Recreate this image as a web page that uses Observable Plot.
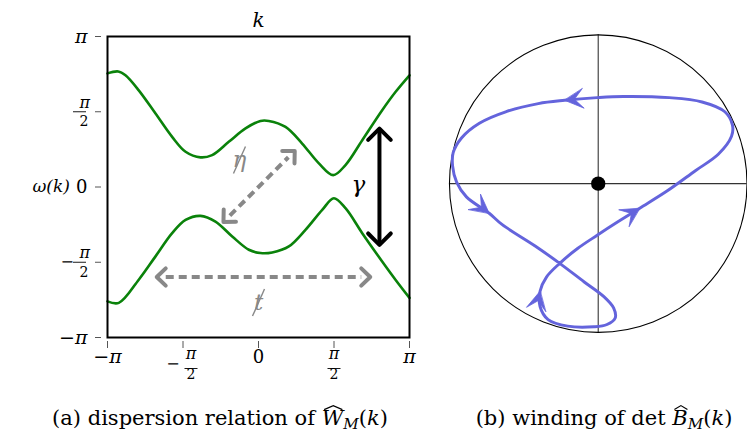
<!DOCTYPE html>
<html><head><meta charset="utf-8">
<script src="https://cdn.jsdelivr.net/npm/d3@7"></script>
<script src="https://cdn.jsdelivr.net/npm/@observablehq/plot@0.6"></script>
<style>
body{margin:0;background:#fff;overflow:hidden}
#wrap{position:relative;width:747px;height:443px;overflow:hidden;font-family:"DejaVu Serif",serif;color:#000}
#left{position:absolute;left:0;top:0}
#right{position:absolute;left:420px;top:0}
.cap{position:absolute;top:406px;font-size:21px;line-height:25px;white-space:nowrap;transform:translateX(-50%)}
.wh{position:relative;display:inline-block}
.hat{position:absolute;left:6%;top:-1px;width:94%;height:5px;overflow:visible}
sub{font-size:0.72em;vertical-align:-0.25em;line-height:0}
</style></head>
<body>
<div id="wrap">
  <div id="left"></div>
  <div id="right"></div>
  <div class="cap" style="left:220px">(a) dispersion relation of <span class="wh"><i>W</i><svg class="hat" viewBox="0 0 20 5" preserveAspectRatio="none"><polyline points="1,4.6 10,0.6 19,4.6" fill="none" stroke="#000" stroke-width="1.2" vector-effect="non-scaling-stroke"/></svg></span><sub><i>M</i></sub>(<i>k</i>)</div>
  <div class="cap" style="left:604px">(b) winding of det <span class="wh"><i>B</i><svg class="hat" viewBox="0 0 20 5" preserveAspectRatio="none"><polyline points="1,4.6 10,0.6 19,4.6" fill="none" stroke="#000" stroke-width="1.2" vector-effect="non-scaling-stroke"/></svg></span><sub><i>M</i></sub>(<i>k</i>)</div>
</div>
<script>
// ---------- panel (a): dispersion relation (k and ω in units of π) ----------
const kUpper     = [-1.000,-0.929,-0.881,-0.793,-0.682,-0.572,-0.483,-0.384,-0.307,-0.197,-0.086,0.013,0.068,0.179,0.289,0.400,0.495,0.576,0.687,0.819,0.907,1.000];
const omegaUpper = [ 0.755, 0.768, 0.742, 0.642, 0.488, 0.333, 0.234, 0.197, 0.212, 0.300, 0.389,0.439,0.439,0.399,0.289,0.157,0.079,0.146,0.311,0.510,0.631,0.742];
const kLower     = [-1.000,-0.925,-0.793,-0.682,-0.572,-0.483,-0.384,-0.285,-0.174,-0.064,0.013,0.091,0.201,0.311,0.422,0.499,0.576,0.687,0.819,0.907,1.000];
const omegaLower = [-0.760,-0.770,-0.616,-0.461,-0.307,-0.219,-0.192,-0.230,-0.329,-0.417,-0.439,-0.435,-0.395,-0.285,-0.152,-0.075,-0.141,-0.307,-0.495,-0.616,-0.737];

const kTicks = [-1, -0.5, 0, 0.5, 1];
const kTickLabels = ["−π", "−π/2", "0", "π/2", "π"];
const omegaTicks = [-1, -0.5, 0, 0.5, 1];
const omegaTickLabels = ["−π", "−π/2", "0", "π/2", "π"];

// dashed hopping arrows (η and t) and the gap arrow γ
const hopNames  = ["η", "t"];
const hopStartK = [-0.232, -0.674];
const hopStartW = [-0.232, -0.598];
const hopEndK   = [ 0.240,  0.740];
const hopEndW   = [ 0.240, -0.598];
const gapK = [0.801];
const gapW = [-0.384, 0.388];

const labelText    = ["η", "t", "γ"];
const labelK       = [-0.126, 0.000, 0.662];
const labelW       = [ 0.179, -0.768, 0.013];
const labelSlashed = [true, true, false];
const labelColor   = ["#888", "#888", "#000"];

// ---------- panel (b): winding of det B(k) (unit circle coordinates) ----------
const windU = [0.170,-0.007,-0.226,-0.403,-0.622,-0.799,-0.919,-0.975,-0.979,-0.952,-0.886,-0.733,-0.645,-0.424,-0.259,-0.094,0.038,0.104,0.114,0.059,-0.028,-0.205,-0.337,-0.391,-0.391,-0.348,-0.259,-0.139,-0.007,0.132,0.279,0.462,0.653,0.807,0.896,0.902,0.851,0.698,0.477];
const windV = [0.586,0.578,0.560,0.538,0.483,0.406,0.307,0.208,0.120,0.010,-0.089,-0.199,-0.276,-0.419,-0.536,-0.661,-0.760,-0.837,-0.903,-0.947,-0.962,-0.958,-0.914,-0.826,-0.723,-0.628,-0.536,-0.436,-0.347,-0.257,-0.165,-0.050,0.087,0.197,0.318,0.395,0.483,0.549,0.578];
const windArrowIdx = [2, 11, 24, 30];

// ---------- helpers ----------
const SERIF = "DejaVu Serif, serif";
const GREEN = "#0a820a", GRAY = "#888", BLUE = "#6464dc";
const XPX = 151, YPX = 150.5; // panel (a) pixels per unit (π)
const BPX = 151.5;            // panel (b) pixels per unit

function chevron(tip, from, len, halfDeg, px, py, id) {
  const dx = (tip[0] - from[0]) * px, dy = (tip[1] - from[1]) * py;
  const L = Math.hypot(dx, dy), ux = dx / L, uy = dy / L;
  const a = halfDeg * Math.PI / 180;
  const wing = s => {
    const c = Math.cos(a), sn = Math.sin(a) * s, bx = -ux, by = -uy;
    const wx = bx * c - by * sn, wy = bx * sn + by * c;
    return {x: tip[0] + wx * len / px, y: tip[1] + wy * len / py, id};
  };
  return [wing(1), {x: tip[0], y: tip[1], id}, wing(-1)];
}
function shorten(a, b, pxLen, px, py) {
  const dx = (b[0] - a[0]) * px, dy = (b[1] - a[1]) * py, L = Math.hypot(dx, dy);
  return [a[0] + dx / L * pxLen / px, a[1] + dy / L * pxLen / py];
}
function stealth(tip, dir, px, id) {
  const L = Math.hypot(dir[0], dir[1]), ux = dir[0] / L, uy = dir[1] / L, nx = -uy, ny = ux;
  const pt = (back, side) => ({x: tip[0] + (-ux * back + nx * side) / px, y: tip[1] + (-uy * back + ny * side) / px, id});
  return [pt(0, 0), pt(19, 10), pt(10, 0), pt(19, -10)];
}
function parseLabel(v, s) {
  const frac = s.includes("/"), neg = s.startsWith("−");
  const body = neg ? s.slice(1) : s;
  const [num, den] = frac ? body.split("/") : [body, ""];
  return {v, s, frac, neg, num, den, sign: neg ? "−" : ""};
}
const barSymbol = {draw(ctx, size) { const w = Math.sqrt(size / Math.PI); ctx.moveTo(-w, 0); ctx.lineTo(w, 0); }};

// ---------- build panel (a) ----------
const upper = kUpper.map((k, i) => ({k, w: omegaUpper[i]}));
const lower = kLower.map((k, i) => ({k, w: omegaLower[i]}));
const xl = kTicks.map((v, i) => parseLabel(v, kTickLabels[i]));
const yl = omegaTicks.map((v, i) => parseLabel(v, omegaTickLabels[i]));

const hops = hopNames.map((n, i) => ({n, a: [hopStartK[i], hopStartW[i]], b: [hopEndK[i], hopEndW[i]]}));
const hopShafts = hops.map(h => {
  const s = shorten(h.a, h.b, 9, XPX, YPX), e = shorten(h.b, h.a, 9, XPX, YPX);
  return {x1: s[0], y1: s[1], x2: e[0], y2: e[1]};
});
const hopHeads = hops.flatMap((h, i) => [
  ...chevron(h.a, h.b, 12.5, 44, XPX, YPX, "h" + i + "a"),
  ...chevron(h.b, h.a, 12.5, 44, XPX, YPX, "h" + i + "b")
]);
const gapShaft = [{x1: gapK[0], y1: gapW[0], x2: gapK[0], y2: gapW[1]}];
const gapHeads = [
  ...chevron([gapK[0], gapW[0]], [gapK[0], gapW[1]], 16, 45, XPX, YPX, "g0"),
  ...chevron([gapK[0], gapW[1]], [gapK[0], gapW[0]], 16, 45, XPX, YPX, "g1")
];
const labels = labelText.map((t, i) => ({t, k: labelK[i], w: labelW[i], slash: labelSlashed[i], c: labelColor[i]}));
const slashes = labels.filter(d => d.slash).map(d => ({
  x1: d.k - 6 / XPX, y1: d.w - 13.5 / YPX, x2: d.k + 6 / XPX, y2: d.w + 13.5 / YPX, c: d.c
}));

// tick label groups
const xPiSingle = xl.filter(d => !d.frac && d.num === "π");
const xPlain    = xl.filter(d => !d.frac && d.num !== "π");
const xFracNeg  = xl.filter(d => d.frac && d.neg), xFracPos = xl.filter(d => d.frac && !d.neg);
const yPiSingle = yl.filter(d => !d.frac && d.num === "π");
const yPlain    = yl.filter(d => !d.frac && d.num !== "π");
const yFrac     = yl.filter(d => d.frac), yFracNeg = yl.filter(d => d.frac && d.neg);

const fracMarksX = (data, dx) => [
  Plot.text(data, {x: "v", text: "num", frameAnchor: "bottom", dy: 21, dx, fontSize: 16, fontStyle: "italic"}),
  Plot.dot(data, {x: "v", frameAnchor: "bottom", dy: 31, dx, symbol: barSymbol, r: 6.5, fill: "none", stroke: "#000", strokeWidth: 0.9}),
  Plot.text(data, {x: "v", text: "den", frameAnchor: "bottom", dy: 41, dx, fontSize: 14})
];

const left = Plot.plot({
  width: 420, height: 395,
  marginLeft: 107, marginRight: 11, marginTop: 36, marginBottom: 58,
  style: {fontFamily: SERIF, background: "transparent", overflow: "visible"},
  x: {domain: [-1, 1]},
  y: {domain: [-1, 1]},
  marks: [
    Plot.axisX(kTicks, {anchor: "bottom", tickSize: 7, dy: 4, tickFormat: () => "", stroke: "#555", label: null}),
    Plot.axisY(omegaTicks, {anchor: "left", tickSize: 6, dx: -6, tickFormat: () => "", stroke: "#555", label: null}),
    // x tick labels
    Plot.text(xPiSingle, {x: "v", text: d => d.sign + d.num, frameAnchor: "bottom", dy: 25, fontSize: 19, fontStyle: "italic"}),
    Plot.text(xPlain, {x: "v", text: "num", frameAnchor: "bottom", dy: 25, fontSize: 18}),
    ...fracMarksX(xFracPos, 0),
    ...fracMarksX(xFracNeg, 8),
    Plot.text(xFracNeg, {x: "v", text: "sign", frameAnchor: "bottom", dy: 31, dx: -10, fontSize: 16}),
    // y tick labels
    Plot.text(yPiSingle, {y: "v", text: d => d.sign + d.num, frameAnchor: "left", dx: -20, textAnchor: "end", fontSize: 19, fontStyle: "italic"}),
    Plot.text(yPlain, {y: "v", text: "num", frameAnchor: "left", dx: -20, textAnchor: "end", fontSize: 18}),
    Plot.text(yFrac, {y: "v", text: "num", frameAnchor: "left", dx: -28, dy: -9, fontSize: 16, fontStyle: "italic"}),
    Plot.dot(yFrac, {y: "v", frameAnchor: "left", dx: -28, symbol: barSymbol, r: 6.5, fill: "none", stroke: "#000", strokeWidth: 0.9}),
    Plot.text(yFrac, {y: "v", text: "den", frameAnchor: "left", dx: -28, dy: 10, fontSize: 14}),
    Plot.text(yFracNeg, {y: "v", text: "sign", frameAnchor: "left", dx: -47, fontSize: 16}),
    // axis titles
    Plot.text(["k"], {text: d => d, frameAnchor: "top", dy: -24, fontSize: 20, fontStyle: "italic"}),
    Plot.text(["ω(k)"], {text: d => d, frameAnchor: "left", dx: -75, fontSize: 17, fontStyle: "italic"}),
    // bands
    Plot.line(upper, {x: "k", y: "w", curve: "catmull-rom", stroke: GREEN, strokeWidth: 2.6}),
    Plot.line(lower, {x: "k", y: "w", curve: "catmull-rom", stroke: GREEN, strokeWidth: 2.6}),
    // hopping arrows
    Plot.link(hopShafts, {x1: "x1", y1: "y1", x2: "x2", y2: "y2", stroke: GRAY, strokeWidth: 4, strokeDasharray: "8,5", strokeLinecap: "butt"}),
    Plot.line(hopHeads, {x: "x", y: "y", z: "id", stroke: GRAY, strokeWidth: 4, strokeLinecap: "round", strokeLinejoin: "round"}),
    // gap arrow
    Plot.link(gapShaft, {x1: "x1", y1: "y1", x2: "x2", y2: "y2", stroke: "#000", strokeWidth: 4, strokeLinecap: "butt"}),
    Plot.line(gapHeads, {x: "x", y: "y", z: "id", stroke: "#000", strokeWidth: 4, strokeLinecap: "round", strokeLinejoin: "round"}),
    // labels
    Plot.text(labels, {x: "k", y: "w", text: "t", fill: "c", fontSize: 23, fontStyle: "italic"}),
    Plot.link(slashes, {x1: "x1", y1: "y1", x2: "x2", y2: "y2", stroke: "c", strokeWidth: 1.4}),
    Plot.frame({stroke: "#000", strokeWidth: 2})
  ]
});
document.getElementById("left").append(left);

// ---------- build panel (b) ----------
const windPath = windU.map((u, i) => ({u, v: windV[i]}));
const n = windPath.length;
const windHeads = windArrowIdx.flatMap((idx, j) => {
  const p = windPath[idx], a = windPath[(idx - 1 + n) % n], b = windPath[(idx + 1) % n];
  return stealth([p.u, p.v], [b.u - a.u, b.v - a.v], BPX, "a" + j);
});

const right = Plot.plot({
  width: 333, height: 345,
  marginLeft: 29.5, marginRight: 0.5, marginTop: 35, marginBottom: 7,
  style: {background: "transparent", overflow: "visible"},
  x: {domain: [-1, 1], axis: null},
  y: {domain: [-1, 1], axis: null},
  marks: [
    Plot.ruleY([0], {stroke: "#333", strokeWidth: 1.2}),
    Plot.ruleX([0], {stroke: "#444", strokeWidth: 1.2}),
    Plot.dot([{u: 0, v: 0}], {x: "u", y: "v", r: BPX, fill: "none", stroke: "#000", strokeWidth: 1.1}),
    Plot.line(windPath, {x: "u", y: "v", curve: "catmull-rom-closed", stroke: BLUE, strokeWidth: 3}),
    Plot.line(windHeads, {x: "x", y: "y", z: "id", curve: "linear-closed", fill: BLUE, stroke: BLUE, strokeWidth: 0.8}),
    Plot.dot([{u: 0, v: 0}], {x: "u", y: "v", r: 7.3, fill: "#000"})
  ]
});
document.getElementById("right").append(right);
</script>
</body></html>
